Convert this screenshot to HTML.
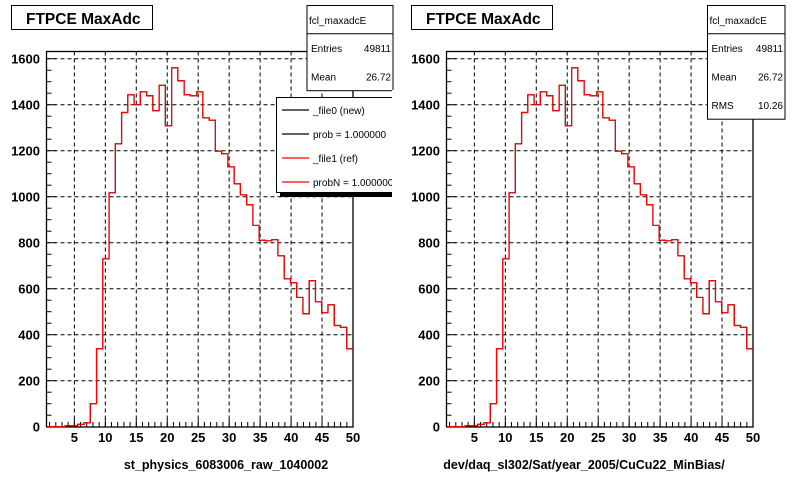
<!DOCTYPE html>
<html><head><meta charset="utf-8"><style>
body{margin:0;background:#fff;}
svg{display:block;font-family:"Liberation Sans",Arial,sans-serif;}
</style></head><body>
<svg id="c" width="800" height="480" viewBox="0 0 800 480" xmlns="http://www.w3.org/2000/svg"></svg>
<script>
// data
const xTicks = [5,10,15,20,25,30,35,40,45,50];
const yTicks = [0,200,400,600,800,1000,1200,1400,1600];
const binLow = 0.5, binHigh = 50, nBins = 49;
const countsNew = [0,0,0,4,4,10,17,100,339,730,1017,1230,1366,1443,1400,1456,1439,1374,1484,1308,1560,1504,1443,1439,1456,1343,1333,1198,1187,1130,1056,1008,965,875,811,808,813,743,643,626,562,491,635,543,496,530,440,432,339];
const countsRef = [0,0,0,4,4,10,17,100,339,730,1017,1230,1366,1443,1400,1456,1439,1374,1484,1308,1560,1504,1443,1439,1456,1343,1333,1198,1187,1130,1056,1008,965,875,811,808,813,743,643,626,562,491,635,543,496,530,440,432,339];
const pads = [
  {off:0, xtitle:"st_physics_6083006_raw_1040002", stats:[["Entries","49811"],["Mean","26.72"]], legend:true},
  {off:400, xtitle:"dev/daq_sl302/Sat/year_2005/CuCu22_MinBias/", stats:[["Entries","49811"],["Mean","26.72"],["RMS","10.26"]], legend:false}
];
const legendEntries = [["_file0 (new)","#000"],["prob = 1.000000","#000"],["_file1 (ref)","#f00"],["probN = 1.000000","#f00"]];

const NS="http://www.w3.org/2000/svg";
const svg=document.getElementById('c');
function mk(tag,attrs,parent,text){const e=document.createElementNS(NS,tag);for(const k in attrs)e.setAttribute(k,attrs[k]);if(text!==undefined)e.textContent=text;(parent||svg).appendChild(e);return e;}

pads.forEach((p,pi)=>{
  const o=p.off;
  const L=46.5+o,R=353+o,T=51.5,B=427;
  const x=v=>L+(v-binLow)/(binHigh-binLow)*(R-L);
  const y=v=>426.7-v*(368/1600);
  const g=mk('g',{},svg);
  
  
  const fr=mk('rect',{x:L,y:T,width:R-L,height:B-T,fill:'#fff',stroke:'#000','stroke-width':1.3},g);
  
  xTicks.forEach(t=>{if(t<50){const l=mk('line',{x1:x(t),x2:x(t),y1:T,y2:B,stroke:'#000','stroke-dasharray':'4,3','stroke-width':1},g);}});
  yTicks.forEach(t=>{if(t>0){const l=mk('line',{x1:L,x2:R,y1:y(t),y2:y(t),stroke:'#000','stroke-dasharray':'4,3','stroke-width':1},g);}});
  for(let v=1;v<=50;v++){const l=mk('line',{x1:x(v),x2:x(v),y1:B,y2:B-(v%5==0?8:5),stroke:'#000'},g);}
  for(let v=0;v<=1600;v+=50){const l=mk('line',{x1:L,x2:L+(v%200==0?9:5),y1:y(v),y2:y(v),stroke:'#000'},g);}
  xTicks.forEach(t=>{const e=mk('text',{x:x(t),y:442,'font-size':13,'font-weight':'bold','text-anchor':'middle'},g,String(t));});
  yTicks.forEach(t=>{const e=mk('text',{x:40+o,y:y(t)+5,'font-size':13,'font-weight':'bold','text-anchor':'end'},g,String(t));});
  const xt=mk('text',{x:(pi==0?226:584),y:469,'font-size':12.5,'font-weight':'bold','text-anchor':'middle'},g,p.xtitle);
  
  const w=(binHigh-binLow)/nBins;
  [[countsNew,'#000'],[countsRef,'#f00']].forEach(([arr,col],si)=>{
    let d='M'+x(binLow)+','+y(0);
    for(let i=0;i<nBins;i++){d+=' L'+x(binLow+i*w)+','+y(arr[i])+' L'+x(binLow+(i+1)*w)+','+y(arr[i]);}
    const pth=mk('path',{d:d,fill:'none',stroke:col,'stroke-width':1.2},g);
    
    
  });
  const tb=mk('rect',{x:11.5+o,y:5.5,width:141,height:24,fill:'#fff',stroke:'#000'},g);
  
  const tt=mk('text',{x:26+o,y:24,'font-size':15.5,'font-weight':'bold'},g,'FTPCE MaxAdc');
  
  const sx=(pi==0?307:707.5);
  const bw=(pi==0?86:77.5);
  const sh=33.7-5.5+28.5*p.stats.length;
  const sb=mk('rect',{x:sx,y:5.5,width:bw,height:sh,fill:'#fff',stroke:'#000'},g);
  
  mk('line',{x1:sx,x2:sx+bw,y1:33.7,y2:33.7,stroke:'#000'},g);
  const sn=mk('text',{x:sx+2,y:24,'font-size':10},g,'fcl_maxadcE');
  
  p.stats.forEach((s,i)=>{
    const a=mk('text',{x:sx+4,y:52+i*28.5,'font-size':10},g,s[0]);
    
    const b=mk('text',{x:sx+bw-2,y:52+i*28.5,'font-size':10,'text-anchor':'end'},g,s[1]);
    
  });
  if(p.legend){
    const lg=mk('g',{},g);
    
    mk('rect',{x:280,y:101,width:120,height:96,fill:'#000'},lg);
    mk('rect',{x:276.5,y:97.5,width:120,height:95,fill:'#fff',stroke:'#000'},lg);
    legendEntries.forEach((e,i)=>{
      const yy=110+i*24;
      const ln=mk('line',{x1:282,x2:309,y1:yy,y2:yy,stroke:e[1],'stroke-width':1.2},lg);
      
      const tx=mk('text',{x:313,y:yy+4,'font-size':10},lg,e[0]);
      
    });
    mk('rect',{x:392,y:90,width:10,height:110,fill:'#fff'},lg);
  }
});
</script>
</body></html>
